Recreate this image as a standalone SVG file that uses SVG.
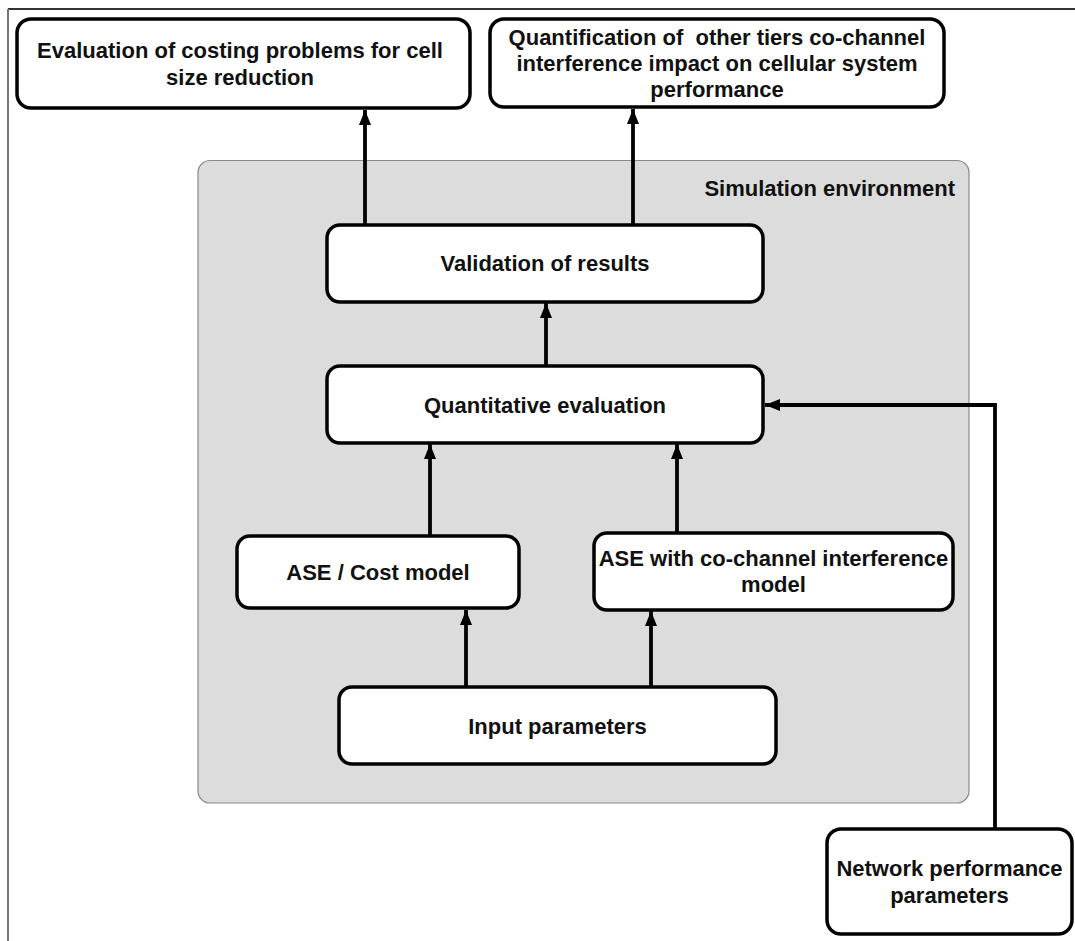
<svg xmlns="http://www.w3.org/2000/svg" width="1075" height="941" viewBox="0 0 1075 941">
  <defs>
    <style>
      .box { fill: #ffffff; stroke: #000000; stroke-width: 3.5; }
      .lbl { font-family: "Liberation Sans", Arial, sans-serif; font-weight: bold; font-size: 22px; fill: #111111; text-anchor: middle; }
      .conn { fill: none; stroke: #000000; stroke-width: 3.8; }
    </style>
    <marker id="arrowL" viewBox="0 0 15 12" refX="15" refY="6" markerWidth="15" markerHeight="12" markerUnits="userSpaceOnUse" orient="auto">
      <path d="M0,0 L15,6 L0,12 z" fill="#000000"/>
    </marker>
  </defs>
  <rect x="0" y="0" width="1075" height="941" fill="#ffffff"/>
  <g id="frame">
    <line x1="8" y1="9" x2="1075" y2="9" stroke="#333333" stroke-width="2"/>
    <line x1="8" y1="9" x2="8" y2="941" stroke="#777777" stroke-width="2"/>
  </g>
  <g id="simulation-environment">
    <rect x="198" y="160.5" width="771" height="642.5" rx="12" fill="#dcdcdc" stroke="#8a8a8a" stroke-width="1.2"/>
    <text class="lbl" x="955" y="196" style="text-anchor:end">Simulation environment</text>
  </g>
  <g id="connectors">
    <line class="conn" x1="365" y1="228" x2="365" y2="110" marker-end="url(#arrowL)"/>
    <line class="conn" x1="633" y1="225" x2="633" y2="109" marker-end="url(#arrowL)"/>
    <line class="conn" x1="546" y1="366" x2="546" y2="303" marker-end="url(#arrowL)"/>
    <line class="conn" x1="430" y1="536" x2="430" y2="444" marker-end="url(#arrowL)"/>
    <line class="conn" x1="677" y1="533" x2="677" y2="444" marker-end="url(#arrowL)"/>
    <line class="conn" x1="466" y1="687" x2="466" y2="610" marker-end="url(#arrowL)"/>
    <line class="conn" x1="651" y1="687" x2="651" y2="611" marker-end="url(#arrowL)"/>
    <polyline class="conn" points="995,829 995,405 765,405" marker-end="url(#arrowL)"/>
  </g>
  <g id="node-costing">
    <rect class="box" x="17" y="19" width="453" height="89" rx="14"/>
    <text class="lbl" x="240" y="58">Evaluation of costing problems for cell</text>
    <text class="lbl" x="240" y="85">size reduction</text>
  </g>
  <g id="node-quantification">
    <rect class="box" x="490" y="19" width="454" height="88" rx="14"/>
    <text class="lbl" x="717" y="45" xml:space="preserve">Quantification of  other tiers co-channel</text>
    <text class="lbl" x="717" y="71">interference impact on cellular system</text>
    <text class="lbl" x="717" y="97">performance</text>
  </g>
  <g id="node-validation">
    <rect class="box" x="327" y="225" width="436" height="77" rx="13"/>
    <text class="lbl" x="545" y="271">Validation of results</text>
  </g>
  <g id="node-quantitative">
    <rect class="box" x="327" y="366" width="436" height="77" rx="13"/>
    <text class="lbl" x="545" y="413">Quantitative evaluation</text>
  </g>
  <g id="node-ase-cost">
    <rect class="box" x="237" y="536" width="282" height="72" rx="13"/>
    <text class="lbl" x="378" y="580">ASE / Cost model</text>
  </g>
  <g id="node-ase-cci">
    <rect class="box" x="594" y="533" width="359" height="77" rx="13"/>
    <text class="lbl" x="773.5" y="566">ASE with co-channel interference</text>
    <text class="lbl" x="773.5" y="592">model</text>
  </g>
  <g id="node-input">
    <rect class="box" x="339" y="687" width="437" height="77" rx="13"/>
    <text class="lbl" x="557.5" y="734">Input parameters</text>
  </g>
  <g id="node-network">
    <rect class="box" x="827" y="829" width="245" height="105" rx="14"/>
    <text class="lbl" x="949.5" y="876">Network performance</text>
    <text class="lbl" x="949.5" y="903">parameters</text>
  </g>
</svg>
